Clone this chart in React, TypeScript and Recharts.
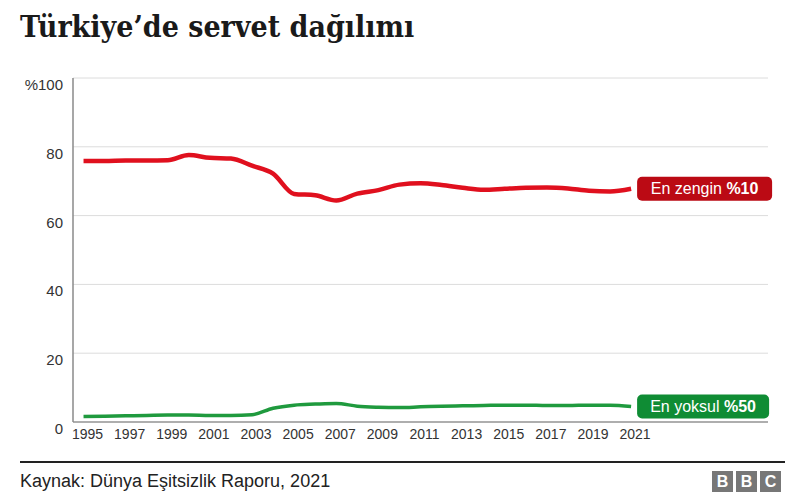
import { LineChart, Line, XAxis, YAxis, CartesianGrid } from 'recharts'

// Türkiye wealth share, World Inequality Report 2021
const years = [
  1995, 1996, 1997, 1998, 1999, 2000, 2001, 2002, 2003, 2004, 2005, 2006, 2007, 2008,
  2009, 2010, 2011, 2012, 2013, 2014, 2015, 2016, 2017, 2018, 2019, 2020, 2021,
]
const richest10 = [
  75.9, 75.9, 76.0, 76.0, 76.1, 77.6, 76.8, 76.6, 74.5, 72.2, 66.3, 65.9, 64.4, 66.4,
  67.4, 69.0, 69.4, 68.9, 68.1, 67.5, 67.8, 68.1, 68.2, 67.9, 67.2, 67.0, 67.8,
]
const poorest50 = [
  1.6, 1.7, 1.8, 1.9, 2.0, 2.0, 1.9, 1.9, 2.1, 4.0, 4.9, 5.2, 5.4, 4.6,
  4.3, 4.2, 4.4, 4.6, 4.7, 4.8, 4.9, 4.9, 4.8, 4.8, 4.9, 4.9, 4.5,
]
const yTicks = [0, 20, 40, 60, 80, 100]
const xTicks = [1995, 1997, 1999, 2001, 2003, 2005, 2007, 2009, 2011, 2013, 2015, 2017, 2019, 2021]

const data = years.map((year, i) => ({ year, rich: richest10[i], poor: poorest50[i] }))

const SANS = '"Liberation Sans", Arial, sans-serif'

function endLabel(text: string, bold: string, fill: string, w: number) {
  return (props: any) => {
    const { x, y, index } = props
    if (index !== years.length - 1) return null
    return (
      <g>
        <rect x={x + 6} y={y - 12} width={w} height={24} rx={5} fill={fill} />
        <text
          x={x + 6 + w / 2}
          y={y + 5.5}
          textAnchor="middle"
          fill="#fff"
          fontSize={16}
          fontFamily={SANS}
        >
          {text}
          <tspan fontWeight="bold">{bold}</tspan>
        </text>
      </g>
    )
  }
}

function YTick(props: any) {
  const { x, y, payload } = props
  return (
    <text x={x} y={y + 12} textAnchor="end" fill="#333" fontSize={15} fontFamily={SANS}>
      {payload.value === 100 ? '%100' : payload.value}
    </text>
  )
}

function XTick(props: any) {
  const { x, y, payload } = props
  return (
    <text x={x + 4} y={y + 17} textAnchor="middle" fill="#333" fontSize={14} fontFamily={SANS}>
      {payload.value}
    </text>
  )
}

export default function App() {
  return (
    <div
      style={{
        position: 'absolute',
        left: 0,
        top: 0,
        width: 800,
        height: 500,
        background: '#fff',
        overflow: 'hidden',
      }}
    >
      <div
        style={{
          position: 'absolute',
          left: 20,
          top: 9,
          fontFamily: '"DejaVu Serif Condensed", "Liberation Serif", serif',
          fontWeight: 'bold',
          fontSize: 30,
          color: '#1a1a1a',
          lineHeight: '36px',
        }}
      >
        Türkiye’de servet dağılımı
      </div>

      <div style={{ position: 'absolute', left: 0, top: 0 }}>
        <LineChart
          width={800}
          height={500}
          data={data}
          margin={{ top: 78, right: 32, bottom: 48, left: 13 }}
        >
          <CartesianGrid vertical={false} stroke="#dcdcdc" strokeWidth={1} />
          <XAxis
            dataKey="year"
            type="number"
            domain={[1994.5, 2027.5]}
            ticks={xTicks}
            tickLine={false}
            tickSize={0}
            tickMargin={0}
            height={30}
            axisLine={{ stroke: '#999', strokeWidth: 1.5 }}
            tick={<XTick />}
            interval={0}
          />
          <YAxis
            domain={[0, 100]}
            ticks={yTicks}
            width={60}
            tickLine={false}
            tickSize={0}
            tickMargin={10}
            axisLine={{ stroke: '#8a8a8a', strokeWidth: 1.5 }}
            tick={<YTick />}
            interval={0}
          />
          <Line
            type="monotone"
            dataKey="rich"
            stroke="#e0101e"
            strokeWidth={4.5}
            dot={false}
            isAnimationActive={false}
            label={endLabel('En zengin ', '%10', '#bb0a14', 135)}
          />
          <Line
            type="monotone"
            dataKey="poor"
            stroke="#1f9a3e"
            strokeWidth={3.5}
            dot={false}
            isAnimationActive={false}
            label={endLabel('En yoksul ', '%50', '#0f8c34', 132)}
          />
        </LineChart>
      </div>

      <div
        style={{
          position: 'absolute',
          left: 20,
          top: 461,
          width: 765,
          height: 2,
          background: '#222',
        }}
      />
      <div
        style={{
          position: 'absolute',
          left: 20,
          top: 469,
          fontFamily: SANS,
          fontSize: 18,
          color: '#222',
          lineHeight: '24px',
        }}
      >
        Kaynak: Dünya Eşitsizlik Raporu, 2021
      </div>
      <div style={{ position: 'absolute', left: 712, top: 471, display: 'flex', gap: 3 }}>
        {['B', 'B', 'C'].map((ch, i) => (
          <div
            key={i}
            style={{
              width: 21,
              height: 21,
              background: '#777',
              color: '#fff',
              fontFamily: SANS,
              fontWeight: 'bold',
              fontSize: 16,
              lineHeight: '21px',
              textAlign: 'center',
            }}
          >
            {ch}
          </div>
        ))}
      </div>
    </div>
  )
}
